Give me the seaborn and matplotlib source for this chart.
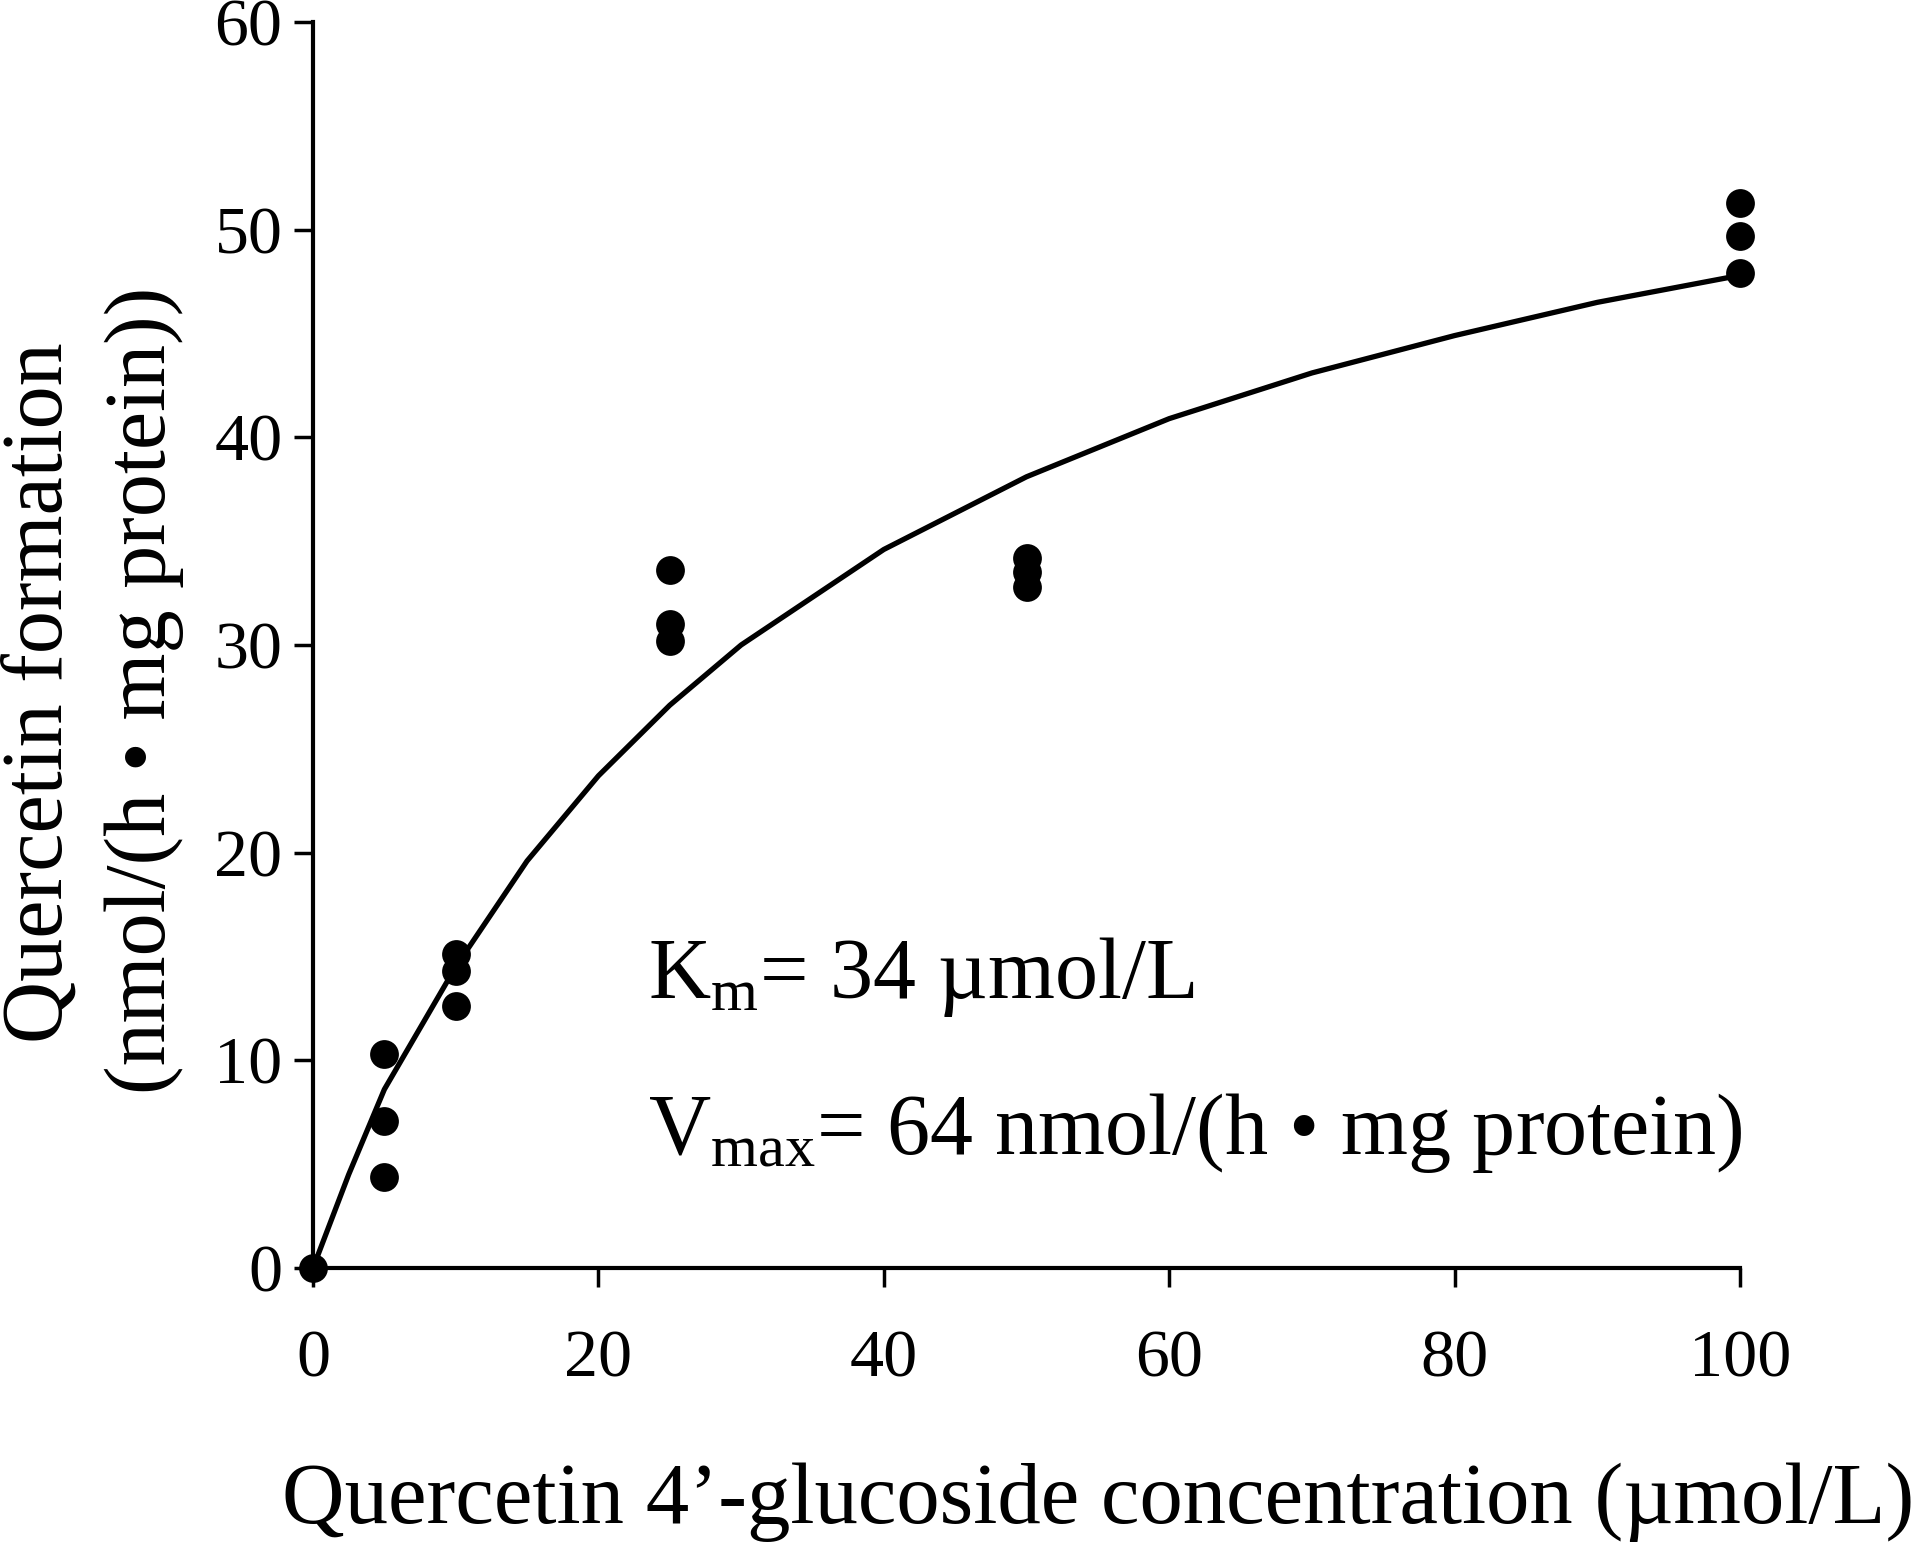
import pandas as pd
import matplotlib
matplotlib.use("Agg")
import matplotlib.pyplot as plt
import seaborn as sns

conc = [0, 5, 5, 5, 10, 10, 10, 25, 25, 25, 50, 50, 50, 100, 100, 100]
rate = [0.0, 10.3, 7.1, 4.4, 15.1, 14.3, 12.6, 33.6, 31.0, 30.2, 34.2, 33.5, 32.8, 51.3, 49.7, 47.9]

# fitted curve
curve_x = [0, 2.5, 5, 10, 15, 20, 25, 30, 40, 50, 60, 70, 80, 90, 100]
curve_y = [0.0, 4.5, 8.6, 14.5, 19.6, 23.7, 27.1, 30.0, 34.6, 38.1, 40.9, 43.1, 44.9, 46.5, 47.8]

x_ticks = [0, 20, 40, 60, 80, 100]
y_ticks = [0, 10, 20, 30, 40, 50, 60]

points = pd.DataFrame({"conc": conc, "rate": rate})
fit = pd.DataFrame({"conc": curve_x, "rate": curve_y})

sns.set_style("ticks")
plt.rcParams["font.family"] = ["Liberation Serif", "DejaVu Serif"]
plt.rcParams["mathtext.fontset"] = "custom"
plt.rcParams["mathtext.rm"] = "Liberation Serif"
plt.rcParams["mathtext.it"] = "Liberation Serif"
plt.rcParams["text.color"] = "black"
plt.rcParams["axes.labelcolor"] = "black"

W, H = 1920, 1546
fig = plt.figure(figsize=(19.2, 15.46), dpi=100)
ax = fig.add_axes([313 / W, 1 - 1268 / H, (1740 - 313) / W, (1268 - 22) / H])

sns.lineplot(data=fit, x="conc", y="rate", ax=ax, color="black", linewidth=3.8)
sns.scatterplot(data=points, x="conc", y="rate", ax=ax, color="black", s=430,
                edgecolor="black", linewidth=0, clip_on=False, zorder=5)

ax.set_xlim(0, 100)
ax.set_ylim(0, 60)
ax.set_xticks(x_ticks)
ax.set_yticks(y_ticks)
ax.set_xlabel("")
ax.set_ylabel("")
sns.despine(ax=ax)
for side in ["left", "bottom"]:
    ax.spines[side].set_linewidth(3)
    ax.spines[side].set_color("black")
ax.tick_params(axis="both", direction="out", length=14, width=2.5, color="black",
               labelsize=49, labelcolor="black")
ax.tick_params(axis="x", pad=30)
ax.tick_params(axis="y", pad=8)

# Michaelis-Menten constants
ax.text(23.5, 13.0, r"K$_{\mathrm{m}}$= 34 µmol/L", fontsize=62, va="baseline", ha="left")
ax.text(23.5, 5.5, r"V$_{\mathrm{max}}$= 64 nmol/(h • mg protein)", fontsize=62,
        va="baseline", ha="left")

# axis labels
fig.text(1098 / W, 1 - 1523 / H, "Quercetin 4’-glucoside concentration (µmol/L)",
         fontsize=62.5, ha="center", va="baseline")
fig.text(62 / W, 1 - 693 / H, "Quercetin formation", fontsize=62, rotation=90,
         rotation_mode="anchor", ha="center", va="baseline")
fig.text(165 / W, 1 - 690 / H, "(nmol/(h • mg protein))", fontsize=62, rotation=90,
         rotation_mode="anchor", ha="center", va="baseline")

plt.savefig("out.png", dpi=100)
